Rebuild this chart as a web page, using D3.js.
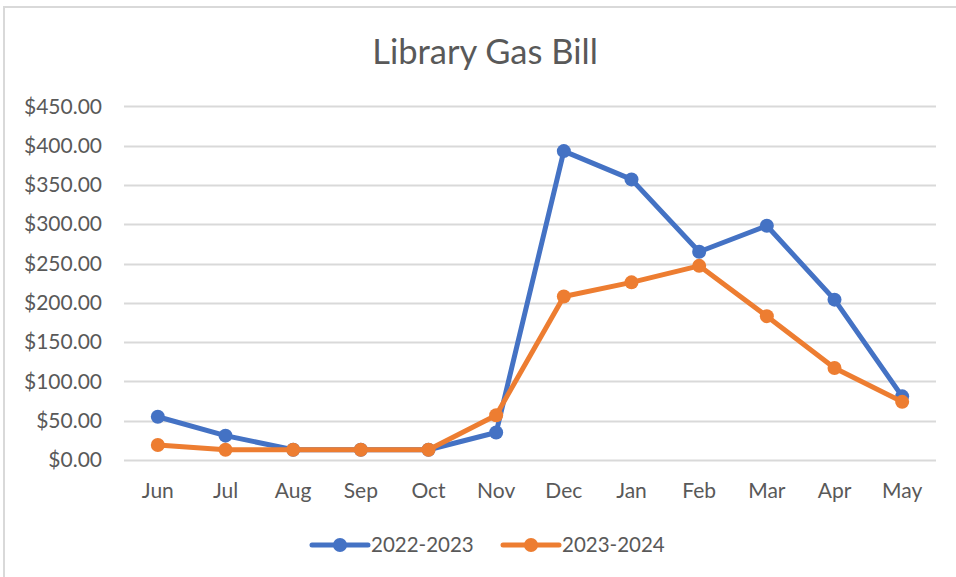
<!DOCTYPE html>
<html>
<head>
<meta charset="utf-8">
<script src="https://cdn.jsdelivr.net/npm/d3@7"></script>
<style>
  html, body { margin: 0; padding: 0; background: #fff; }
  svg { display: block; }
  text { font-family: Lato, "Open Sans", sans-serif; fill: #595959; }
</style>
</head>
<body>
<svg id="chart" width="956" height="577"></svg>
<script>
const months = ["Jun","Jul","Aug","Sep","Oct","Nov","Dec","Jan","Feb","Mar","Apr","May"];
const series2022 = [55, 31, 13, 13, 13, 35, 393, 357, 265, 298, 204, 81];
const series2023 = [19, 13, 13, 13, 13, 57, 208, 226, 247, 183, 117, 74];
const seriesNames = ["2022-2023", "2023-2024"];
const yTicks = [0, 50, 100, 150, 200, 250, 300, 350, 400, 450];
const title = "Library Gas Bill";

const colors = ["#4472C4", "#ED7D31"];
const svg = d3.select("#chart");

// outer chart border
svg.append("rect")
  .attr("x", 4).attr("y", 7).attr("width", 970).attr("height", 590)
  .attr("fill", "#fff").attr("stroke", "#d9d9d9").attr("stroke-width", 2);

const x = d3.scaleBand().domain(months).range([124, 936]).padding(0);
const y = d3.scaleLinear().domain([0, 450]).range([460, 106.3]);
const cx = d => x(d) + x.bandwidth() / 2;

// title
svg.append("text")
  .attr("x", 485).attr("y", 64)
  .attr("text-anchor", "middle")
  .style("font-size", "34.5px")
  .text(title);

// gridlines
svg.append("g").selectAll("line").data(yTicks).join("line")
  .attr("x1", 124).attr("x2", 936)
  .attr("y1", d => Math.round(y(d)) + 0.5).attr("y2", d => Math.round(y(d)) + 0.5)
  .attr("stroke", "#d9d9d9").attr("stroke-width", 2);

// y axis labels
const yAxis = d3.axisLeft(y).tickValues(yTicks).tickSize(0).tickPadding(0)
  .tickFormat(d => "$" + d3.format(".2f")(d));
const yg = svg.append("g").attr("transform", "translate(102,0)").call(yAxis);
yg.select(".domain").remove();
yg.selectAll("text").style("font-size", "21px").attr("fill", "#595959")
  .style("font-family", "Lato, 'Open Sans', sans-serif");

// x axis labels
const xAxis = d3.axisBottom(x).tickSize(0).tickPadding(0);
const xg = svg.append("g").attr("transform", "translate(0,483)").call(xAxis);
xg.select(".domain").remove();
xg.selectAll("text").style("font-size", "21px").attr("fill", "#595959")
  .style("font-family", "Lato, 'Open Sans', sans-serif");

// lines
const allSeries = [series2022, series2023];
const line = d3.line().x((d, i) => cx(months[i])).y(d => y(d));
allSeries.forEach((s, k) => {
  const g = svg.append("g");
  g.append("path").datum(s).attr("d", line)
    .attr("fill", "none").attr("stroke", colors[k]).attr("stroke-width", 5)
    .attr("stroke-linejoin", "round");
  g.selectAll("circle").data(s).join("circle")
    .attr("cx", (d, i) => cx(months[i])).attr("cy", d => y(d))
    .attr("r", 7).attr("fill", colors[k]);
});

// legend
const legendItems = [
  {x0: 312, tx: 371},
  {x0: 503, tx: 562}
];
seriesNames.forEach((n, k) => {
  const g = svg.append("g");
  const lx = legendItems[k].x0;
  g.append("line").attr("x1", lx).attr("x2", lx + 56).attr("y1", 545).attr("y2", 545)
    .attr("stroke", colors[k]).attr("stroke-width", 5).attr("stroke-linecap", "round");
  g.append("circle").attr("cx", lx + 28).attr("cy", 545).attr("r", 7).attr("fill", colors[k]);
  g.append("text").attr("x", legendItems[k].tx).attr("y", 552)
    .style("font-size", "20.5px").text(n);
});
</script>
</body>
</html>
